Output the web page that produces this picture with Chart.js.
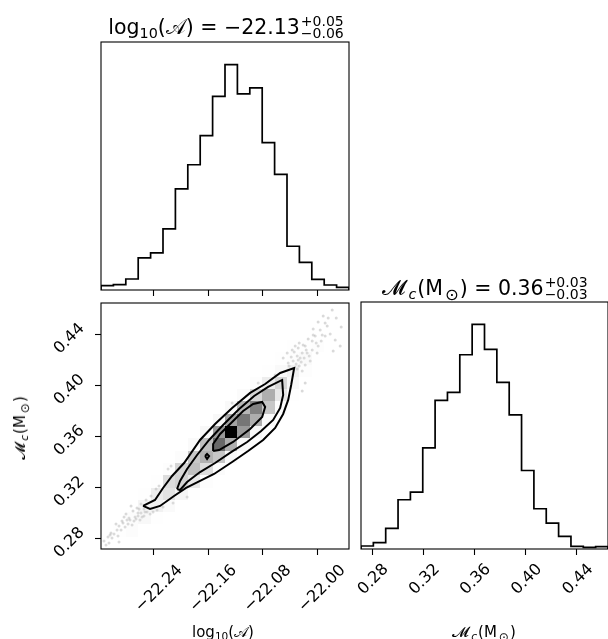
<!DOCTYPE html>
<html>
<head>
<meta charset="utf-8">
<script src="https://cdn.jsdelivr.net/npm/chart.js@4.4.1/dist/chart.umd.min.js"></script>
<style>
  body { margin: 0; width: 608px; height: 639px; overflow: hidden; background: #fff; position: relative;
         font-family: "DejaVu Sans", sans-serif; color: #000; }
  canvas { position: absolute; }
  .t { position: absolute; white-space: nowrap; line-height: 20px; }
  .title { font-size: 20.5px; transform: translateX(-50%); }
  .lab { font-size: 15px; }
  sub { font-size: 0.7em; vertical-align: -0.3em; line-height: 0; }
  .mc sub { margin: 0 1px 0 2px; }
  .mc .sun { font-size: 0.8em; }
  .pm { display: inline-flex; flex-direction: column; font-size: 14px; line-height: 12px; vertical-align: 8px; margin-left: 1px; }
</style>
</head>
<body>
<canvas id="histAmp" width="360" height="300" style="left:0;top:0"></canvas>
<canvas id="joint" width="360" height="344" style="left:0;top:295px"></canvas>
<canvas id="histChirp" width="256" height="344" style="left:352px;top:295px"></canvas>

<div class="t title" style="left:226px;top:15px">log<sub>10</sub>(𝒜) = −22.13<span class="pm"><span>+0.05</span><span>−0.06</span></span></div>
<div class="t title mc" style="left:485px;top:276px">𝓜<sub><i>c</i></sub>(M<sub class="sun">⊙</sub>) = 0.36<span class="pm"><span>+0.03</span><span>−0.03</span></span></div>
<div class="t lab" style="left:223px;top:622px;transform:translateX(-50%)">log<sub>10</sub>(𝒜)</div>
<div class="t lab mc" style="left:484px;top:622px;transform:translateX(-50%)">𝓜<sub><i>c</i></sub>(M<sub class="sun">⊙</sub>)</div>
<div class="t lab mc" style="left:20px;top:428px;transform:translate(-50%,-50%) rotate(-90deg)">𝓜<sub><i>c</i></sub>(M<sub class="sun">⊙</sub>)</div>

<script>
// parameter ranges (sample min/max) and ticks
const logAmpRange = [-22.318, -21.953];
const chirpRange = [0.2714, 0.4645];
const logAmpTicks = [-22.24, -22.16, -22.08, -22.00];
const chirpTicks = [0.28, 0.32, 0.36, 0.40, 0.44];

// 1-d histogram counts, 20 bins each
const logAmpCounts = [13, 16, 33, 96, 111, 183, 303, 375, 462, 580, 675, 587, 605, 441, 346, 131, 83, 32, 15, 8];
const chirpCounts = [9, 19, 62, 148, 171, 304, 447, 471, 584, 675, 600, 501, 403, 236, 121, 78, 38, 8, 5, 7];

// 2-d histogram: [xBin, yBin, count]
const densityPeak = 60;
const densityCells = [
  [0, 0, 2], [1, 0, 2], [1, 1, 4], [2, 1, 6], [2, 2, 6], [3, 2, 10], [3, 3, 12], [3, 4, 3], [4, 2, 4],
  [4, 3, 14], [4, 4, 16], [4, 5, 4], [5, 3, 8], [5, 4, 20], [5, 5, 22], [5, 6, 5], [6, 4, 12],
  [6, 5, 25], [6, 6, 24], [6, 7, 6], [7, 4, 3], [7, 5, 18], [7, 6, 30], [7, 7, 28], [7, 8, 8],
  [8, 5, 5], [8, 6, 22], [8, 7, 33], [8, 8, 30], [8, 9, 10], [9, 6, 7], [9, 7, 28], [9, 8, 46],
  [9, 9, 38], [9, 10, 10], [10, 7, 9], [10, 8, 34], [10, 9, 60], [10, 10, 36], [10, 11, 9],
  [11, 8, 10], [11, 9, 38], [11, 10, 44], [11, 11, 32], [11, 12, 7], [12, 9, 10], [12, 10, 34],
  [12, 11, 42], [12, 12, 24], [12, 13, 5], [13, 10, 8], [13, 11, 28], [13, 12, 34], [13, 13, 16],
  [13, 14, 4], [14, 11, 6], [14, 12, 18], [14, 13, 24], [14, 14, 9], [14, 15, 3], [15, 12, 4],
  [15, 13, 10], [15, 14, 14], [15, 15, 5], [15, 16, 3], [16, 14, 5], [16, 15, 8], [16, 16, 3],
  [17, 16, 5], [17, 17, 2], [18, 17, 2]
];

// samples shown outside the contours
const samplePoints = [
  [-22.3136, 0.2777], [-22.3062, 0.2761], [-22.3033, 0.2840], [-22.3047, 0.2824], [-22.2959, 0.2910],
  [-22.2944, 0.2863], [-22.2915, 0.2895], [-22.2871, 0.2934], [-22.2856, 0.2918], [-22.2812, 0.2989],
  [-22.2768, 0.2957], [-22.2753, 0.2942], [-22.2738, 0.3052], [-22.2709, 0.3012], [-22.2694, 0.2934],
  [-22.2679, 0.2965], [-22.2635, 0.2973], [-22.2635, 0.2997], [-22.2620, 0.3028], [-22.2591, 0.2997],
  [-22.2547, 0.3028], [-22.2488, 0.3036], [-22.2473, 0.3067], [-22.2444, 0.3130], [-22.2399, 0.3091],
  [-22.2370, 0.3185], [-22.2326, 0.3209], [-22.2355, 0.3020], [-22.2267, 0.3044], [-22.2193, 0.3342],
  [-22.2149, 0.3366], [-22.2119, 0.3075], [-22.1913, 0.3122], [-22.2989, 0.2832], [-22.2915, 0.2769],
  [-22.2532, 0.3005], [-22.2576, 0.2965], [-22.2797, 0.2942],
  [-22.3018, 0.2800], [-22.2930, 0.2816], [-22.2885, 0.2863], [-22.2826, 0.2887], [-22.2782, 0.2910],
  [-22.2723, 0.2902], [-22.2664, 0.2950], [-22.2606, 0.2942], [-22.2547, 0.2973], [-22.2502, 0.3004],
  [-22.2458, 0.2989], [-22.2414, 0.3004], [-22.2650, 0.3036], [-22.2591, 0.3067], [-22.2517, 0.3099],
  [-22.3106, 0.2745], [-22.3077, 0.2808], [-22.2841, 0.2965],
  [-21.9777, 0.4590], [-21.9851, 0.4465], [-21.9925, 0.4394], [-22.0028, 0.4386], [-21.9881, 0.4386],
  [-21.9660, 0.4308], [-22.0072, 0.4347], [-22.0175, 0.4308], [-22.0219, 0.4253], [-22.0293, 0.4229],
  [-22.0249, 0.4213], [-22.0352, 0.4190], [-22.0146, 0.4253], [-22.0072, 0.4276], [-21.9984, 0.4308],
  [-21.9999, 0.4253], [-21.9763, 0.4268], [-22.0175, 0.4158], [-22.0219, 0.4111], [-22.0175, 0.4017],
  [-22.0219, 0.3954], [-22.0101, 0.4190], [-22.0425, 0.4174], [-22.0499, 0.4213], [-22.0440, 0.4253],
  [-22.0366, 0.4276], [-22.0322, 0.4308], [-22.0057, 0.4394], [-21.9954, 0.4433], [-21.9881, 0.4488],
  [-21.9836, 0.4527], [-22.0278, 0.4198], [-22.0234, 0.4182], [-22.0308, 0.4166], [-22.0263, 0.4151],
  [-22.0337, 0.4260], [-22.0278, 0.4292], [-22.0205, 0.4315], [-22.0160, 0.4276], [-22.0116, 0.4229],
  [-22.0293, 0.4127], [-22.0381, 0.4221], [-22.0190, 0.4213], [-22.0263, 0.4331], [-22.0131, 0.4363],
  [-22.0013, 0.4331], [-21.9939, 0.4347], [-22.0057, 0.4441], [-21.9984, 0.4496], [-21.9910, 0.4543],
  [-21.9718, 0.4527], [-21.9645, 0.4457], [-21.9807, 0.4402], [-21.9733, 0.4355], [-22.0411, 0.4151],
  [-22.0455, 0.4111],
  [-22.0867, 0.4017], [-22.0617, 0.4080], [-22.1250, 0.3860], [-22.0764, 0.3664], [-22.0809, 0.3585],
  [-22.1353, 0.3389], [-22.1133, 0.3452]
];

// contour lines at 2, 1.5, 1 and 0.5 sigma
const contour20 = [
  [-22.2561, 0.3052], [-22.2385, 0.3099], [-22.2267, 0.3193], [-22.2134, 0.3287], [-22.1957, 0.3389],
  [-22.1722, 0.3570], [-22.1501, 0.3695], [-22.1250, 0.3821], [-22.0985, 0.3939], [-22.0764, 0.4009],
  [-22.0543, 0.4096], [-22.0337, 0.4135], [-22.0381, 0.4001], [-22.0425, 0.3884], [-22.0499, 0.3774],
  [-22.0617, 0.3664], [-22.0794, 0.3570], [-22.1015, 0.3483], [-22.1250, 0.3397], [-22.1516, 0.3303],
  [-22.1722, 0.3248], [-22.1928, 0.3193], [-22.2105, 0.3130], [-22.2311, 0.3052], [-22.2458, 0.3028],
  [-22.2561, 0.3052]
];
const contour15 = [
  [-22.2061, 0.3185], [-22.2016, 0.3248], [-22.1913, 0.3342], [-22.1766, 0.3452], [-22.1589, 0.3570],
  [-22.1383, 0.3687], [-22.1147, 0.3813], [-22.0926, 0.3915], [-22.0720, 0.3986], [-22.0514, 0.4041],
  [-22.0499, 0.3923], [-22.0543, 0.3821], [-22.0646, 0.3727], [-22.0823, 0.3640], [-22.1029, 0.3554],
  [-22.1265, 0.3475], [-22.1501, 0.3389], [-22.1722, 0.3318], [-22.1913, 0.3240], [-22.2016, 0.3177],
  [-22.2061, 0.3185]
];
const contour10 = [
  [-22.1530, 0.3483], [-22.1530, 0.3538], [-22.1427, 0.3617], [-22.1250, 0.3711], [-22.1088, 0.3797],
  [-22.0941, 0.3852], [-22.0808, 0.3868], [-22.0764, 0.3829], [-22.0808, 0.3750], [-22.0985, 0.3656],
  [-22.1236, 0.3554], [-22.1442, 0.3491], [-22.1530, 0.3483]
];
const contour05a = [
  [-22.1324, 0.3601], [-22.1339, 0.3648], [-22.1265, 0.3672], [-22.1206, 0.3664], [-22.1191, 0.3633],
  [-22.1236, 0.3601], [-22.1324, 0.3601]
];
const contour05b = [
  [-22.1648, 0.3444], [-22.1619, 0.3460], [-22.1589, 0.3444], [-22.1619, 0.3421], [-22.1648, 0.3444]
];

const NBINS = 20;
const binEdges = r => Array.from({ length: NBINS + 1 }, (_, k) => r[0] + (r[1] - r[0]) * k / NBINS);
const logAmpEdges = binEdges(logAmpRange);
const chirpEdges = binEdges(chirpRange);

function stepPoints(edges, counts) {
  const pts = [{ x: edges[0], y: 0 }];
  counts.forEach((c, k) => pts.push({ x: edges[k], y: c }));
  pts.push({ x: edges[NBINS], y: counts[NBINS - 1] }, { x: edges[NBINS], y: 0 });
  return pts;
}
const xy = arr => arr.map(([x, y]) => ({ x, y }));

Chart.defaults.font.family = "'DejaVu Sans', sans-serif";
Chart.defaults.color = '#000';

const minus = v => (v < 0 ? '\u2212' : '') + Math.abs(v).toFixed(2);
const noPad = s => { s.paddingLeft = s.paddingRight = s.paddingTop = s.paddingBottom = 0; };
const TICK_FONT = { size: 16 };

const frame = {
  id: 'frame',
  afterDraw(chart) {
    const { ctx, chartArea: a } = chart;
    ctx.save();
    ctx.strokeStyle = '#000';
    ctx.lineWidth = 1.1;
    ctx.strokeRect(a.left, a.top, a.right - a.left, a.bottom - a.top);
    ctx.restore();
  }
};

function tickAxis(range, ticks, opts) {
  return Object.assign({
    type: 'linear', min: range[0], max: range[1],
    afterBuildTicks: axis => { axis.ticks = ticks.map(value => ({ value })); },
    grid: { drawOnChartArea: false, drawTicks: true, tickLength: 6, tickColor: '#000', tickWidth: 1.1 },
    border: { display: false }
  }, opts);
}

function histChart(id, edges, counts, range, ticks, padding, showLabels, labelOffset, labelPad) {
  return new Chart(document.getElementById(id), {
    type: 'line',
    data: {
      datasets: [{
        data: stepPoints(edges, counts),
        stepped: 'before',
        borderColor: '#000',
        borderWidth: 1.7,
        pointRadius: 0,
        fill: false
      }]
    },
    options: {
      responsive: false, animation: false, events: [],
      layout: { padding },
      plugins: { legend: { display: false }, tooltip: { enabled: false } },
      scales: {
        x: tickAxis(range, ticks, {
          ticks: {
            display: showLabels, minRotation: 45, maxRotation: 45, autoSkip: false,
            font: TICK_FONT, padding: labelPad, labelOffset, callback: minus
          },
          afterFit: s => { s.height = showLabels ? 90 : 10; noPad(s); }
        }),
        y: { display: false, min: 0, max: 1.1 * Math.max(...counts) }
      }
    },
    plugins: [frame]
  });
}

histChart('histAmp', logAmpEdges, logAmpCounts, logAmpRange, logAmpTicks,
  { left: 101, top: 42, right: 11, bottom: 0 }, false, 0, 0);
histChart('histChirp', chirpEdges, chirpCounts, chirpRange, chirpTicks,
  { left: 9, top: 7, right: 0, bottom: 0 }, true, 14, 5);

// joint panel: samples, white base inside the outer contour, 2-d density, contour lines
const SAMPLE_SET = 5;
const densityLayer = {
  id: 'densityLayer',
  afterDatasetDraw(chart, args) {
    if (args.index !== SAMPLE_SET) return;
    const { ctx, chartArea: a, scales: { x, y } } = chart;
    ctx.save();
    ctx.beginPath();
    ctx.rect(a.left, a.top, a.right - a.left, a.bottom - a.top);
    ctx.clip();

    ctx.beginPath();
    contour20.forEach(([vx, vy], k) => {
      const px = x.getPixelForValue(vx), py = y.getPixelForValue(vy);
      k ? ctx.lineTo(px, py) : ctx.moveTo(px, py);
    });
    ctx.closePath();
    ctx.fillStyle = '#fff';
    ctx.fill();

    densityCells.forEach(([i, j, n]) => {
      const f = n / densityPeak;
      const g = Math.round(255 * (1 - f));
      const x0 = Math.round(x.getPixelForValue(logAmpEdges[i]));
      const x1 = Math.round(x.getPixelForValue(logAmpEdges[i + 1]));
      const y0 = Math.round(y.getPixelForValue(chirpEdges[j]));
      const y1 = Math.round(y.getPixelForValue(chirpEdges[j + 1]));
      ctx.fillStyle = `rgba(${g},${g},${g},${f})`;
      ctx.fillRect(x0, y1, x1 - x0, y0 - y1);
    });
    ctx.restore();
  }
};

const contourSet = (data) => ({
  data: xy(data), showLine: true, borderColor: '#000', borderWidth: 2,
  pointRadius: 0, fill: false, order: 1
});

new Chart(document.getElementById('joint'), {
  type: 'scatter',
  data: {
    datasets: [
      contourSet(contour20),
      contourSet(contour15),
      contourSet(contour10),
      contourSet(contour05a),
      contourSet(contour05b),
      {
        data: xy(samplePoints), pointRadius: 1.5, pointBorderWidth: 0,
        pointBackgroundColor: 'rgba(0,0,0,0.15)', order: 10
      }
    ]
  },
  options: {
    responsive: false, animation: false, events: [],
    layout: { padding: { left: 0, top: 8, right: 11, bottom: 0 } },
    plugins: { legend: { display: false }, tooltip: { enabled: false } },
    scales: {
      x: tickAxis(logAmpRange, logAmpTicks, {
        ticks: { minRotation: 45, maxRotation: 45, autoSkip: false, font: TICK_FONT, padding: 6, labelOffset: 26, callback: minus },
        afterFit: s => { s.height = 90; noPad(s); }
      }),
      y: tickAxis(chirpRange, chirpTicks, {
        ticks: { minRotation: 45, maxRotation: 45, autoSkip: false, font: TICK_FONT, padding: 13, labelOffset: -8, callback: minus },
        afterFit: s => { s.width = 101; noPad(s); }
      })
    }
  },
  plugins: [densityLayer, frame]
});
</script>
</body>
</html>
